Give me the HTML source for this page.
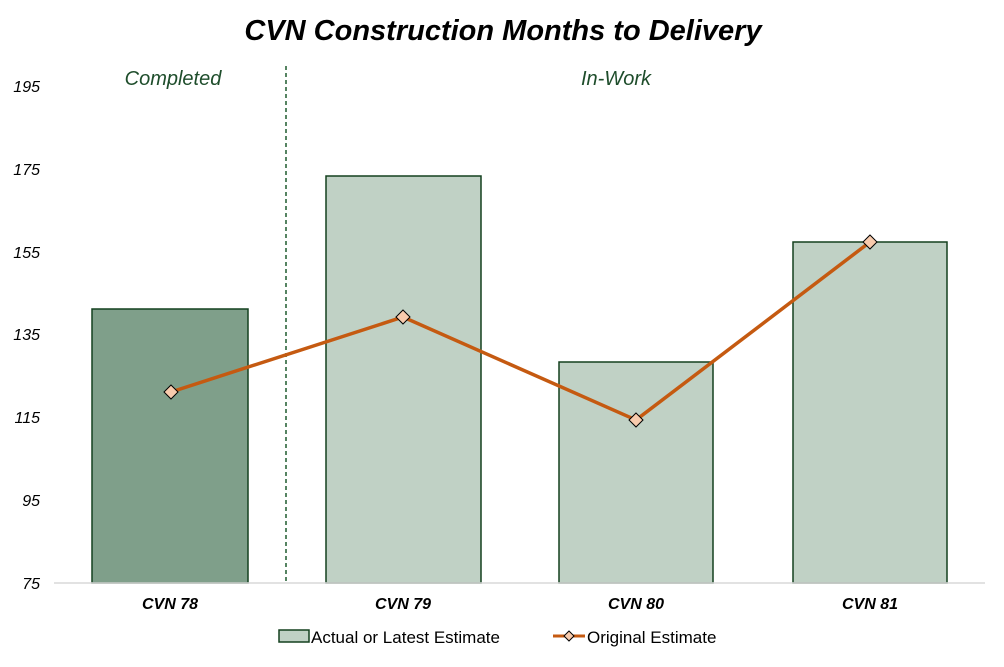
<!DOCTYPE html>
<html><head><style>body{margin:0;background:#fff}</style></head><body>
<svg width="1004" height="662" xmlns="http://www.w3.org/2000/svg" font-family="Liberation Sans, Arial, sans-serif">
<rect width="1004" height="662" fill="#fff"/>
<text x="503" y="40" text-anchor="middle" font-size="29" font-weight="bold" font-style="italic" fill="#000">CVN Construction Months to Delivery</text>
<g font-size="16" font-style="italic" fill="#000" text-anchor="end">
<text x="40" y="589">75</text><text x="40" y="506">95</text><text x="40" y="423">115</text>
<text x="40" y="340">135</text><text x="40" y="258">155</text><text x="40" y="175">175</text><text x="40" y="92">195</text>
</g>
<rect x="92" y="309" width="156" height="274" fill="#7f9f8a" stroke="#14401f" stroke-width="1.5"/>
<rect x="326" y="176" width="155" height="407" fill="#c0d1c5" stroke="#14401f" stroke-width="1.5"/>
<rect x="559" y="362" width="154" height="221" fill="#c0d1c5" stroke="#14401f" stroke-width="1.5"/>
<rect x="793" y="242" width="154" height="341" fill="#c0d1c5" stroke="#14401f" stroke-width="1.5"/>
<line x1="54" y1="583" x2="985" y2="583" stroke="#d9d9d9" stroke-width="1.5"/>
<line x1="286" y1="66" x2="286" y2="582" stroke="#1e5c2e" stroke-width="1.5" stroke-dasharray="4,3"/>
<text x="173" y="85" text-anchor="middle" font-size="20" font-style="italic" fill="#1e4d2b">Completed</text>
<text x="616" y="85" text-anchor="middle" font-size="20" font-style="italic" fill="#1e4d2b">In-Work</text>
<polyline points="171,392 403,317 636,420 870,242" fill="none" stroke="#c55a11" stroke-width="3.5"/>
<g fill="#f8cbad" stroke="#000" stroke-width="1">
<polygon points="171,385 178,392 171,399 164,392"/><polygon points="403,310 410,317 403,324 396,317"/>
<polygon points="636,413 643,420 636,427 629,420"/><polygon points="870,235 877,242 870,249 863,242"/>
</g>
<g font-size="16" font-weight="bold" font-style="italic" fill="#000" text-anchor="middle">
<text x="170" y="609">CVN 78</text><text x="403" y="609">CVN 79</text><text x="636" y="609">CVN 80</text><text x="870" y="609">CVN 81</text>
</g>
<rect x="279" y="630" width="30" height="12" fill="#c0d1c5" stroke="#14401f" stroke-width="1.5"/>
<text x="311" y="643" font-size="17" fill="#000">Actual or Latest Estimate</text>
<line x1="553" y1="636" x2="585" y2="636" stroke="#c55a11" stroke-width="3"/>
<polygon points="569,631 574,636 569,641 564,636" fill="#f8cbad" stroke="#000" stroke-width="1"/>
<text x="587" y="643" font-size="17" fill="#000">Original Estimate</text>
</svg>
</body></html>
